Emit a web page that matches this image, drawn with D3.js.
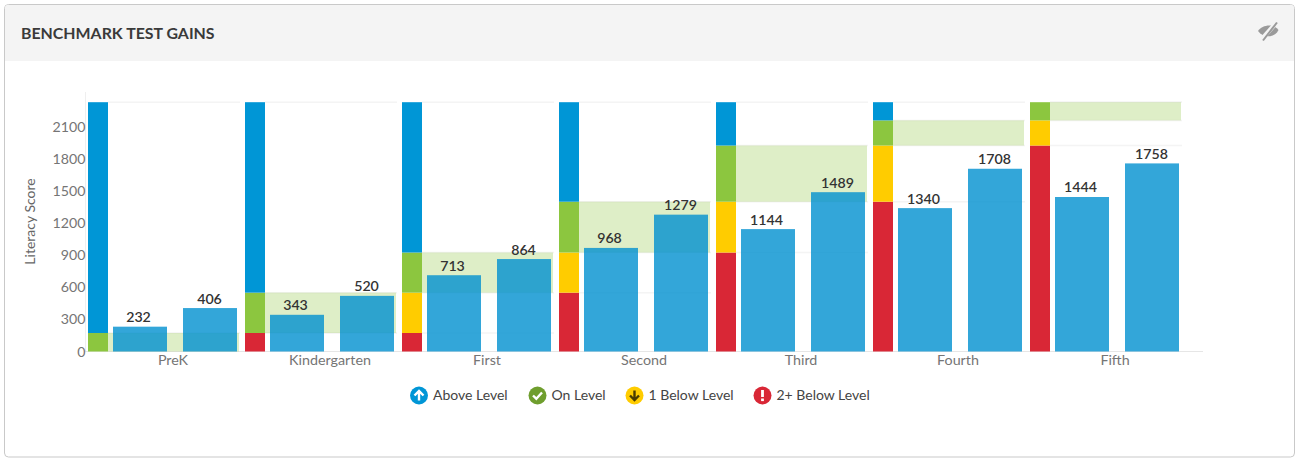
<!DOCTYPE html>
<html><head><meta charset="utf-8"><title>Benchmark Test Gains</title>
<script src="https://cdn.jsdelivr.net/npm/d3@7/dist/d3.min.js"></script>
<style>html,body{margin:0;padding:0;background:#fff}svg{display:block;font-family:Lato,sans-serif}</style>
</head><body><svg id="c" width="1304" height="460"></svg>
<script>
const title = "BENCHMARK TEST GAINS";
const yTitle = "Literacy Score";
const categories = ["PreK","Kindergarten","First","Second","Third","Fourth","Fifth"];
const yTicks = [0,300,600,900,1200,1500,1800,2100];
const yMax = 2330;
const beginValues = [232,343,713,968,1144,1340,1444];
const endValues = [406,520,864,1279,1489,1708,1758];
// Upper limit of each performance level per grade; equal limits mean the level is absent
const below2Top = [0,173,173,550,925,1400,1925];
const below1Top = [0,173,550,925,1400,1925,2160];
const onLevelTop = [173,550,925,1400,1925,2160,2330];
const aboveTop = [2330,2330,2330,2330,2330,2330,2330];
const legendLabels = ["Above Level","On Level","1 Below Level","2+ Below Level"];
const levelColors = ["#0096d6","#8cc63f","#ffcc00","#d92736"];
const legendColors = ["#0096d6","#6f9e2e","#ffcc00","#d92736"];

const svg = d3.select("#c");
// Card
svg.append("rect").attr("x",4.5).attr("y",4.5).attr("width",1290).attr("height",452.5).attr("rx",4).attr("fill","#fff").attr("stroke","#c9c9c9");
svg.append("path").attr("d","M5,61V8a3,3 0 0 1 3,-3H1291a3,3 0 0 1 3,3V61Z").attr("fill","#f4f4f4");
svg.append("text").attr("x",21).attr("y",38.5).attr("font-size",15.9).attr("font-weight",700).attr("fill","#3a3a3a").text(title);
// Eye-slash icon
const eye = svg.append("g").attr("transform","translate(1268,31)");
eye.append("path").attr("d","M-10,0C-6,-6.5 6,-8 10.5,-1C7,7 -5,7.5 -10,0Z").attr("fill","#9a9a9a");
eye.append("path").attr("d","M-6,8L8,-8").attr("stroke","#f4f4f4").attr("stroke-width",4.5);
eye.append("path").attr("d","M-5,9.5L9,-8.5").attr("stroke","#9a9a9a").attr("stroke-width",2);

// Scales
const y = d3.scaleLinear().domain([0,yMax]).range([351.5,102.2]);
const x = d3.scaleBand().domain(categories).range([85,85+157*7]);
const xLabel = d3.scaleBand().domain(categories).range([94.5,94.5+157*7]);

const bandLayers = [
  {lo:categories.map(()=>0), hi:below2Top, color:levelColors[3]},
  {lo:below2Top, hi:below1Top, color:levelColors[2]},
  {lo:below1Top, hi:onLevelTop, color:levelColors[1]},
  {lo:onLevelTop, hi:aboveTop, color:levelColors[0]}
];
const idx = categories.map((c,i)=>i);

// Axis lines
svg.append("line").attr("x1",85.5).attr("x2",85.5).attr("y1",92).attr("y2",351.5).attr("stroke","#efefef");
svg.append("line").attr("x1",85).attr("x2",1203).attr("y1",351.5).attr("y2",351.5).attr("stroke","#e6e6e6");

// Faint grid at level limits
const g = svg.append("g");
[below2Top,below1Top,onLevelTop,aboveTop].forEach(arr=>{
  g.append("g").selectAll("line").data(idx.filter(i=>arr[i]>0)).join("line")
    .attr("x1",i=>x(categories[i])+23).attr("x2",i=>x(categories[i])+155)
    .attr("y1",i=>y(arr[i])).attr("y2",i=>y(arr[i]))
    .attr("stroke","#f4f4f4").attr("stroke-width",1.5);
});

// On-level range band
g.append("g").selectAll("rect").data(idx).join("rect")
  .attr("x",i=>x(categories[i])+23).attr("width",131)
  .attr("y",i=>y(onLevelTop[i])).attr("height",i=>y(below1Top[i])-y(onLevelTop[i]))
  .attr("fill","#8cc63f").attr("fill-opacity",0.29);

// Level columns
bandLayers.forEach(l=>{
  g.append("g").selectAll("rect").data(idx).join("rect")
    .attr("x",i=>x(categories[i])+3).attr("width",20)
    .attr("y",i=>y(l.hi[i])).attr("height",i=>y(l.lo[i])-y(l.hi[i]))
    .attr("fill",l.color);
});

// Value bars and labels
[[beginValues,28,26],[endValues,98,27]].forEach(([vals,off,labelOff])=>{
  const lay = svg.append("g");
  lay.selectAll("rect").data(idx).join("rect")
    .attr("x",i=>x(categories[i])+off).attr("width",54)
    .attr("y",i=>y(vals[i])).attr("height",i=>y(0)-y(vals[i]))
    .attr("fill","#0090cf").attr("fill-opacity",0.8);
  lay.selectAll("text").data(idx).join("text")
    .attr("x",i=>x(categories[i])+off+labelOff-0.5).attr("y",i=>y(vals[i])-4.5)
    .attr("text-anchor","middle").attr("font-size",14.2).attr("font-weight",600).attr("fill","#333")
    .text(i=>vals[i]);
});

// Axes
const yAxis = svg.append("g").attr("transform","translate(85.5,0)")
  .call(d3.axisLeft(y).tickValues(yTicks).tickSize(0).tickPadding(0).tickFormat(d3.format("d")));
yAxis.select(".domain").remove();
yAxis.selectAll("text").attr("font-family","Lato").attr("font-size",14.2).attr("fill","#757575");
const xAxis = svg.append("g").attr("transform","translate(0,351.5)")
  .call(d3.axisBottom(xLabel).tickSize(0).tickPadding(3));
xAxis.select(".domain").remove();
xAxis.selectAll("text").attr("font-family","Lato").attr("font-size",14.3).attr("fill","#757575");
svg.append("text").attr("transform","translate(35,221.5) rotate(-90)").attr("text-anchor","middle")
  .attr("font-size",14).attr("fill","#666").text(yTitle);

// Legend
const legX = [419,537.5,634.5,762.5];
const leg = svg.append("g").selectAll("g").data(legendLabels).join("g")
  .attr("transform",(d,i)=>`translate(${legX[i]},395.5)`);
leg.append("circle").attr("r",9).attr("fill",(d,i)=>legendColors[i]);
leg.append("text").attr("x",14).attr("y",4.5).attr("font-size",14).attr("fill","#444").text(d=>d);
leg.each(function(d,i){
  const s = d3.select(this);
  if(i===0) s.append("path").attr("d","M-4.5,0L0,-4.5L4.5,0M0,-4V5").attr("fill","none").attr("stroke","#fff").attr("stroke-width",2.4);
  if(i===1) s.append("path").attr("d","M-4.5,0L-1.2,3.2L4.5,-3").attr("fill","none").attr("stroke","#fff").attr("stroke-width",2.4);
  if(i===2) s.append("path").attr("d","M-4.5,0L0,4.5L4.5,0M0,4V-5").attr("fill","none").attr("stroke","#4a3b00").attr("stroke-width",2.4);
  if(i===3){ s.append("rect").attr("x",-1.4).attr("y",-5.5).attr("width",2.8).attr("height",7).attr("fill","#fff");
             s.append("rect").attr("x",-1.4).attr("y",3).attr("width",2.8).attr("height",2.6).attr("fill","#fff"); }
});
</script>
</body></html>
